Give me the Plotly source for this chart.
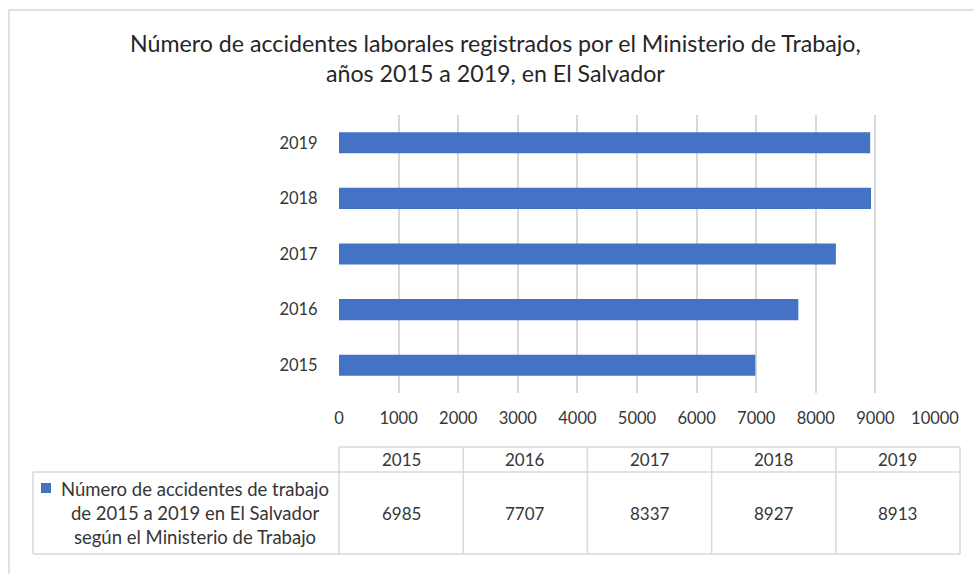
import plotly.graph_objects as go

# ---- data ----
years = ["2015", "2016", "2017", "2018", "2019"]
accidents = [6985, 7707, 8337, 8927, 8913]
x_tick_values = list(range(0, 10001, 1000))
x_tick_labels = [str(v) for v in x_tick_values]
title_lines = ["Número de accidentes laborales registrados por el Ministerio de Trabajo,",
               "años 2015 a 2019, en El Salvador"]
series_name = "Número de accidentes de trabajo<br>de 2015 a 2019 en El Salvador<br>según el Ministerio de Trabajo"

W, H = 974, 574
FONT = "Lato"
TXT = "#363636"
GRID = "#D9D9D9"
BAR = "#4472C4"


def px(x):
    return x / W


def py(y):
    return 1 - y / H


fig = go.Figure()
fig.add_trace(go.Bar(
    x=accidents, y=years, orientation="h",
    marker=dict(color=BAR, line=dict(width=0)),
    width=0.38, showlegend=False, hoverinfo="x+y",
))

shapes = []
annotations = []

# outer chart border
shapes.append(dict(type="rect", xref="paper", yref="paper",
                   x0=px(9), x1=px(990), y0=py(10), y1=py(590),
                   line=dict(color=GRID, width=1.5), fillcolor="rgba(0,0,0,0)", layer="below"))

# data table
col_edges = [339, 463.2, 587.4, 711.6, 835.8, 960]
y_top, y_mid, y_bot = 447, 472, 554
legend_left = 33
line_style = dict(color=GRID, width=1.5)
shapes.append(dict(type="line", xref="paper", yref="paper", x0=px(col_edges[0]), x1=px(col_edges[-1]),
                   y0=py(y_top), y1=py(y_top), line=line_style))
shapes.append(dict(type="line", xref="paper", yref="paper", x0=px(legend_left), x1=px(col_edges[-1]),
                   y0=py(y_mid), y1=py(y_mid), line=line_style))
shapes.append(dict(type="line", xref="paper", yref="paper", x0=px(legend_left), x1=px(col_edges[-1]),
                   y0=py(y_bot), y1=py(y_bot), line=line_style))
shapes.append(dict(type="line", xref="paper", yref="paper", x0=px(legend_left), x1=px(legend_left),
                   y0=py(y_mid), y1=py(y_bot), line=line_style))
for xe in col_edges:
    shapes.append(dict(type="line", xref="paper", yref="paper", x0=px(xe), x1=px(xe),
                       y0=py(y_top), y1=py(y_bot), line=line_style))

for i, (yr, val) in enumerate(zip(years, accidents)):
    cx = (col_edges[i] + col_edges[i + 1]) / 2
    annotations.append(dict(xref="paper", yref="paper", x=px(cx), y=py(459.5),
                            text=yr, showarrow=False, xanchor="center", yanchor="middle",
                            font=dict(family=FONT, size=17, color=TXT)))
    annotations.append(dict(xref="paper", yref="paper", x=px(cx), y=py(513),
                            text=str(val), showarrow=False, xanchor="center", yanchor="middle",
                            font=dict(family=FONT, size=17, color=TXT)))

# legend key + series name
shapes.append(dict(type="rect", xref="paper", yref="paper", x0=px(41), x1=px(51),
                   y0=py(483), y1=py(493), fillcolor=BAR, line=dict(width=0)))
annotations.append(dict(xref="paper", yref="paper", x=px(195), y=py(513),
                        text=series_name, showarrow=False, xanchor="center", yanchor="middle",
                        align="center", font=dict(family=FONT, size=18.5, color=TXT)))

# title
annotations.append(dict(xref="paper", yref="paper", x=px(495), y=py(58),
                        text="<br>".join(title_lines), showarrow=False, xanchor="center",
                        yanchor="middle", align="center",
                        font=dict(family=FONT, size=23.2, color="#262626")))

fig.update_layout(
    width=W, height=H,
    margin=dict(l=0, r=0, t=0, b=0, autoexpand=False),
    paper_bgcolor="white", plot_bgcolor="white",
    shapes=shapes, annotations=annotations,
    xaxis=dict(domain=[px(339), px(935)], range=[0, 10000], automargin=False,
               tickvals=x_tick_values, ticktext=x_tick_labels,
               showgrid=True, gridcolor=GRID, gridwidth=1.5, zeroline=False,
               showline=False, ticks="outside", ticklen=10, tickcolor="rgba(0,0,0,0)",
               tickfont=dict(family=FONT, size=16.5, color=TXT), fixedrange=True),
    yaxis=dict(domain=[py(393), py(115)], type="category", range=[-0.5, 4.5], automargin=False,
               showgrid=False, zeroline=False, showline=False,
               ticks="outside", ticklen=17, tickcolor="rgba(0,0,0,0)",
               tickfont=dict(family=FONT, size=16.5, color=TXT), fixedrange=True),
)

fig.write_html("out.html", config={"displayModeBar": False},
               post_script="document.body.style.margin='0';document.body.style.overflow='hidden';")
